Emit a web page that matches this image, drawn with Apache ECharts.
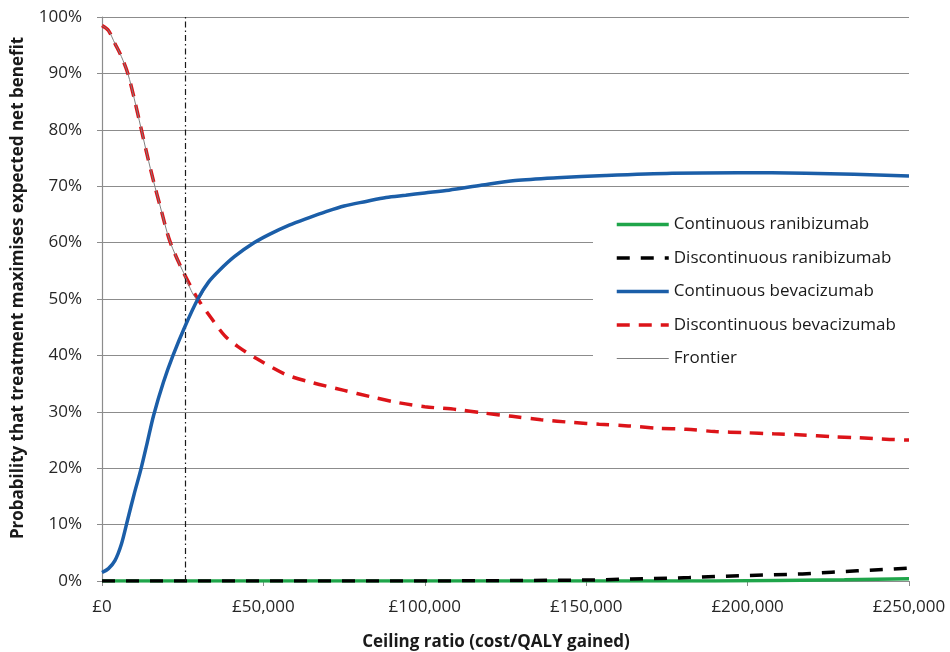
<!DOCTYPE html>
<html>
<head>
<meta charset="utf-8">
<script src="https://cdn.jsdelivr.net/npm/echarts@6/dist/echarts.min.js"></script>
<style>
  html, body { margin: 0; padding: 0; background: #fff; }
  #chart { width: 950px; height: 652px; }
</style>
</head>
<body>
<div id="chart"></div>
<script>
// Ceiling ratios (£/QALY) and probability (%) for each strategy
const contRanX = [0, 100000, 190000, 210000, 230000, 250000];
const contRanY = [0, 0, 0, 0.1, 0.2, 0.4];

const discRanX = [0, 50000, 100000, 120000, 140000, 154000, 164000, 182000, 190000, 199000, 207500, 217000, 226000, 234000, 244000, 250000];
const discRanY = [0, 0, 0, 0.05, 0.12, 0.2, 0.35, 0.6, 0.8, 0.95, 1.1, 1.25, 1.55, 1.8, 2.1, 2.3];

const contBevX = [0, 2000, 4000, 6000, 8000, 10000, 12000, 14000, 16000, 19000, 22000, 25600, 29700, 33000, 36400, 41000, 47200, 52000, 58000, 64000, 69400, 75000, 81800, 88000, 94100, 100000, 107500, 117800, 128000, 141000, 156000, 176600, 197000, 218000, 233000, 250000];
const contBevY = [1.5, 2.2, 3.6, 6.5, 11, 15.5, 19.7, 24.5, 29.4, 35.2, 40, 45, 50, 53, 55.1, 57.5, 60, 61.5, 63.1, 64.4, 65.5, 66.5, 67.3, 68, 68.4, 68.8, 69.3, 70.2, 71, 71.5, 71.9, 72.3, 72.4, 72.3, 72.1, 71.8];

const discBevX = [0, 2000, 4000, 6000, 8000, 10000, 12000, 14000, 16000, 18000, 21000, 25000, 29700, 34000, 38000, 42000, 48000, 57000, 65000, 75000, 83000, 92000, 100000, 110000, 118000, 127000, 136000, 146000, 154000, 163000, 172000, 181000, 190000, 199000, 208000, 217000, 226000, 234000, 244000, 250000];
const discBevY = [98.5, 97.6, 95.3, 93, 90, 85.5, 80.5, 75.5, 70.8, 66.5, 60.3, 55, 50, 46.5, 43.5, 41.6, 39.4, 36.6, 35.2, 33.8, 32.7, 31.6, 30.9, 30.4, 29.8, 29.2, 28.6, 28.1, 27.8, 27.5, 27.1, 26.9, 26.5, 26.3, 26.1, 25.9, 25.6, 25.4, 25.1, 25.0];

// Ceiling ratio where the optimal strategy switches, and the reference threshold line
const switchRatio = 29700;
const thresholdRatio = 25800;

const xTicks = [0, 50000, 100000, 150000, 200000, 250000];
const yTicks = [0, 10, 20, 30, 40, 50, 60, 70, 80, 90, 100];

const names = ['Continuous ranibizumab', 'Discontinuous ranibizumab', 'Continuous bevacizumab', 'Discontinuous bevacizumab', 'Frontier'];

const zip = (xs, ys) => xs.map((x, i) => [x, ys[i]]);

// Frontier: the strategy with the highest probability at each ceiling ratio
const frontier = zip(discBevX, discBevY).filter(p => p[0] <= switchRatio)
  .concat(zip(contBevX, contBevY).filter(p => p[0] > switchRatio));

const FONT = '"Open Sans", sans-serif';
const gbp = v => '£' + v.toLocaleString('en-GB');

const chart = echarts.init(document.getElementById('chart'), null, { renderer: 'canvas' });

chart.setOption({
  animation: false,
  backgroundColor: '#ffffff',
  textStyle: { fontFamily: FONT },
  grid: { left: 102, right: 41, top: 17, bottom: 71 },
  xAxis: {
    type: 'value',
    min: xTicks[0],
    max: xTicks[xTicks.length - 1],
    interval: xTicks[1] - xTicks[0],
    axisLine: { lineStyle: { color: '#8c8c8c', width: 1.2 } },
    axisTick: { show: true, length: 5, lineStyle: { color: '#8c8c8c' } },
    axisLabel: { formatter: gbp, color: '#262626', fontSize: 17, margin: 18, fontFamily: FONT },
    splitLine: { show: false }
  },
  yAxis: {
    type: 'value',
    min: yTicks[0],
    max: yTicks[yTicks.length - 1],
    interval: yTicks[1] - yTicks[0],
    axisLine: { show: true, lineStyle: { color: '#8c8c8c', width: 1.2 } },
    axisTick: { show: true, length: 5, lineStyle: { color: '#8c8c8c' } },
    axisLabel: { formatter: v => v + '%', color: '#262626', fontSize: 17, margin: 20, fontFamily: FONT },
    splitLine: { show: true, lineStyle: { color: '#8c8c8c', width: 1.2 } }
  },
  legend: {
    orient: 'vertical',
    left: 593,
    top: 206,
    padding: [10, 20, 10, 22],
    backgroundColor: '#ffffff',
    itemWidth: 52,
    itemHeight: 14,
    itemGap: 16.5,
    itemTextGap: 5,
    itemStyle: { opacity: 0 },
    textStyle: { fontSize: 17, color: '#1a1a1a', fontFamily: FONT },
    data: [
      { name: names[0], lineStyle: { width: 3.5 } },
      { name: names[1], lineStyle: { width: 3.5 } },
      { name: names[2], lineStyle: { width: 3.5 } },
      { name: names[3], lineStyle: { width: 3.5 } },
      { name: names[4], lineStyle: { width: 1 } }
    ]
  },
  graphic: [
    {
      type: 'text',
      x: 496,
      y: 642,
      style: {
        text: 'Ceiling ratio (cost/QALY gained)',
        font: 'bold 17px ' + FONT,
        fill: '#1a1a1a',
        textAlign: 'center',
        textVerticalAlign: 'middle'
      }
    },
    {
      type: 'text',
      x: 18,
      y: 288,
      rotation: Math.PI / 2,
      style: {
        text: 'Probability that treatment maximises expected net benefit',
        font: 'bold 17px ' + FONT,
        fill: '#1a1a1a',
        textAlign: 'center',
        textVerticalAlign: 'middle'
      }
    }
  ],
  series: [
    {
      name: names[0], type: 'line', symbol: 'none', z: 2,
      data: zip(contRanX, contRanY),
      lineStyle: { color: '#1fa54a', width: 3.5 },
      itemStyle: { color: '#1fa54a' }
    },
    {
      name: names[1], type: 'line', symbol: 'none', z: 3,
      data: zip(discRanX, discRanY),
      lineStyle: { color: '#000000', width: 3.5, type: [13, 11] },
      itemStyle: { color: '#000000' }
    },
    {
      name: names[2], type: 'line', symbol: 'none', smooth: 0.3, z: 6,
      data: zip(contBevX, contBevY),
      lineStyle: { color: '#1b5ea8', width: 3.5 },
      itemStyle: { color: '#1b5ea8' }
    },
    {
      name: names[3], type: 'line', symbol: 'none', smooth: 0.3, z: 4,
      data: zip(discBevX, discBevY),
      lineStyle: { color: '#dc1419', width: 3.5, type: [13, 9] },
      itemStyle: { color: '#dc1419' }
    },
    {
      name: names[4], type: 'line', symbol: 'none', smooth: 0.3, z: 5,
      data: frontier,
      lineStyle: { color: '#7f7f7f', width: 1 },
      itemStyle: { color: '#7f7f7f' },
      markLine: {
        silent: true,
        symbol: 'none',
        label: { show: false },
        lineStyle: { color: '#1a1a1a', width: 1.2, type: [6, 3, 1.5, 3] },
        data: [{ xAxis: thresholdRatio }]
      }
    }
  ]
});
</script>
</body>
</html>
